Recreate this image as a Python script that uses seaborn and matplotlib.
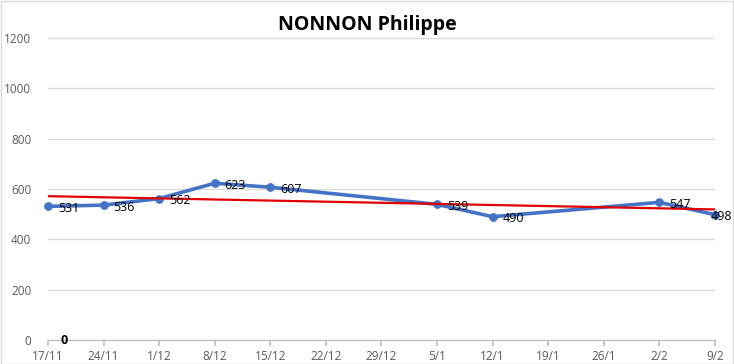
import numpy as np
import pandas as pd
import matplotlib
matplotlib.use("Agg")
import matplotlib.pyplot as plt
import seaborn as sns

title = "NONNON Philippe"
dates = ["2019-11-17", "2019-11-24", "2019-12-01", "2019-12-08", "2019-12-15",
         "2020-01-05", "2020-01-12", "2020-02-02", "2020-02-09"]
values = [531, 536, 562, 623, 607, 539, 490, 547, 498]
tick_dates = ["2019-11-17", "2019-11-24", "2019-12-01", "2019-12-08", "2019-12-15",
              "2019-12-22", "2019-12-29", "2020-01-05", "2020-01-12", "2020-01-19",
              "2020-01-26", "2020-02-02", "2020-02-09"]
tick_labels = ["17/11", "24/11", "1/12", "8/12", "15/12", "22/12", "29/12",
               "5/1", "12/1", "19/1", "26/1", "2/2", "9/2"]
y_ticks = [0, 200, 400, 600, 800, 1000, 1200]
stray_label_date = "2019-11-19"
stray_label_value = 0

sns.set_theme(style="white")
plt.rcParams['font.family'] = ['Open Sans', 'DejaVu Sans']

df = pd.DataFrame({"date": pd.to_datetime(dates), "value": values})
t0 = df["date"].min()
df["day"] = (df["date"] - t0).dt.days

fig = plt.figure(figsize=(7.34, 3.64), dpi=100)
ax = fig.add_axes([0.0654, 0.0659, 0.9086, 0.8297])

# grid
for y in y_ticks:
    ax.axhline(y, color="#d9d9d9", lw=0.9, zorder=0)

sns.lineplot(data=df, x="day", y="value", ax=ax, color="#4472C4", lw=2.6,
             marker="o", markersize=5.5, markeredgecolor="#4472C4", zorder=3,
             clip_on=False)

# linear trendline
coef = np.polyfit(df["day"], df["value"], 1)
xs = np.array([df["day"].min(), df["day"].max()])
ax.plot(xs, np.polyval(coef, xs), color="#E00000", lw=1.6, zorder=4)

n = len(df)
for i, (d, v) in enumerate(zip(df["day"], df["value"])):
    off = (7, -1.5) if i < n - 1 else (-3, -1.5)
    ax.annotate(str(v), (d, v), xytext=off, textcoords="offset points",
                ha="left", va="center", fontsize=9, color="#000000", zorder=5)

sd = (pd.Timestamp(stray_label_date) - t0).days
ax.text(sd, stray_label_value, str(stray_label_value), fontsize=9, fontweight="bold",
        ha="center", va="center", color="#000000")

tick_days = [(pd.Timestamp(t) - t0).days for t in tick_dates]
ax.set_xticks(tick_days)
ax.set_xticklabels(tick_labels, fontsize=8.5, color="#595959")
ax.set_yticks(y_ticks)
ax.set_yticklabels([str(y) for y in y_ticks], fontsize=8.5, color="#595959")
ax.set_xlim(tick_days[0], tick_days[-1])
ax.set_ylim(0, 1200)
ax.set_xlabel("")
ax.set_ylabel("")
for s in ["top", "right", "left"]:
    ax.spines[s].set_visible(False)
ax.spines["bottom"].set_color("#bfbfbf")
ax.spines["bottom"].set_linewidth(0.9)
ax.tick_params(axis="x", length=4, color="#bfbfbf", bottom=True, pad=3)
ax.tick_params(axis="y", length=0, pad=12)

fig.text(0.5, 0.93, title, ha="center", va="center", fontsize=14,
         fontweight="bold", color="#000000")

# chart border
fig.patches.append(plt.Rectangle((0.001, 0.001), 0.997, 0.996, transform=fig.transFigure,
                                 fill=False, edgecolor="#d9d9d9", lw=1))

fig.savefig("out.png", dpi=100)
